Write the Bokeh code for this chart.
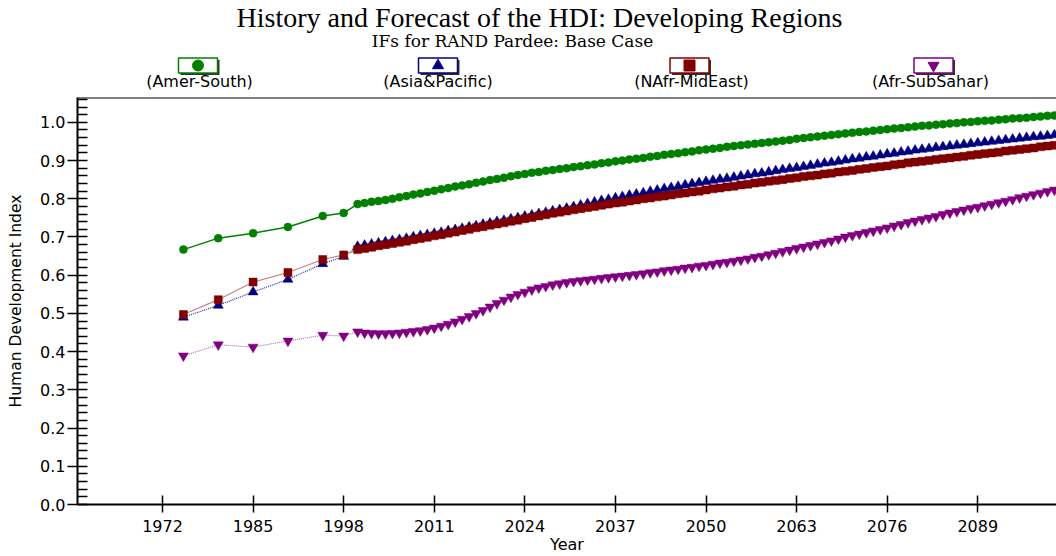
from bokeh.plotting import figure
from bokeh.models import Range1d, SingleIntervalTicker, FixedTicker, PrintfTickFormatter, Span
from bokeh.layouts import column
from bokeh.embed import file_html
from bokeh.resources import INLINE
from bokeh.core.properties import value

# ---------------- data ----------------
title = "History and Forecast of the HDI: Developing Regions"
subtitle = "IFs for RAND Pardee: Base Case"
regions = ["Amer-South", "Asia&Pacific", "NAfr-MidEast", "Afr-SubSahar"]
x_ticks = [1972, 1985, 1998, 2011, 2024, 2037, 2050, 2063, 2076, 2089]

hist_years = [1975, 1980, 1985, 1990, 1995, 1998]
fc_years = list(range(2000, 2101))

amer_hist = [0.667, 0.697, 0.710, 0.726, 0.755, 0.763]
asia_hist = [0.490, 0.521, 0.556, 0.589, 0.630, 0.649]
nafr_hist = [0.497, 0.536, 0.582, 0.607, 0.641, 0.653]
afr_hist = [0.389, 0.418, 0.412, 0.428, 0.443, 0.441]

amer_fc = [
    0.786, 0.789, 0.792, 0.794, 0.797, 0.800, 0.804, 0.807, 0.811, 0.814,
    0.818, 0.821, 0.825, 0.828, 0.832, 0.835, 0.838, 0.842, 0.845, 0.849,
    0.852, 0.855, 0.859, 0.862, 0.865, 0.868, 0.870, 0.873, 0.875, 0.878,
    0.880, 0.883, 0.885, 0.888, 0.890, 0.893, 0.895, 0.898, 0.900, 0.903,
    0.905, 0.907, 0.910, 0.912, 0.915, 0.917, 0.919, 0.922, 0.924, 0.927,
    0.929, 0.931, 0.933, 0.936, 0.938, 0.940, 0.942, 0.944, 0.946, 0.948,
    0.950, 0.952, 0.954, 0.957, 0.959, 0.961, 0.963, 0.965, 0.967, 0.969,
    0.971, 0.973, 0.975, 0.976, 0.978, 0.980, 0.982, 0.984, 0.985, 0.987,
    0.989, 0.991, 0.992, 0.994, 0.995, 0.997, 0.998, 1.000, 1.001, 1.003,
    1.004, 1.005, 1.007, 1.008, 1.010, 1.011, 1.012, 1.014, 1.015, 1.017,
    1.018,
]
asia_fc = [
    0.675, 0.678, 0.681, 0.684, 0.687, 0.690, 0.693, 0.696, 0.700, 0.703,
    0.706, 0.709, 0.712, 0.716, 0.719, 0.722, 0.726, 0.729, 0.733, 0.736,
    0.740, 0.743, 0.747, 0.750, 0.754, 0.757, 0.761, 0.764, 0.768, 0.771,
    0.775, 0.779, 0.783, 0.787, 0.791, 0.795, 0.798, 0.802, 0.805, 0.809,
    0.812, 0.815, 0.819, 0.822, 0.826, 0.829, 0.832, 0.836, 0.839, 0.842,
    0.845, 0.848, 0.851, 0.853, 0.856, 0.859, 0.862, 0.865, 0.867, 0.870,
    0.873, 0.876, 0.879, 0.881, 0.884, 0.887, 0.890, 0.893, 0.895, 0.898,
    0.901, 0.904, 0.906, 0.909, 0.911, 0.914, 0.917, 0.919, 0.922, 0.924,
    0.927, 0.929, 0.931, 0.934, 0.936, 0.938, 0.940, 0.942, 0.944, 0.946,
    0.948, 0.950, 0.952, 0.954, 0.956, 0.958, 0.960, 0.962, 0.963, 0.965,
    0.967,
]
nafr_fc = [
    0.667, 0.670, 0.673, 0.677, 0.680, 0.683, 0.686, 0.689, 0.693, 0.696,
    0.699, 0.703, 0.706, 0.710, 0.713, 0.717, 0.720, 0.724, 0.727, 0.731,
    0.734, 0.737, 0.741, 0.744, 0.748, 0.751, 0.755, 0.758, 0.762, 0.765,
    0.768, 0.771, 0.774, 0.777, 0.780, 0.783, 0.786, 0.789, 0.791, 0.794,
    0.797, 0.800, 0.802, 0.805, 0.807, 0.810, 0.813, 0.815, 0.818, 0.820,
    0.823, 0.826, 0.828, 0.831, 0.833, 0.836, 0.838, 0.841, 0.843, 0.846,
    0.848, 0.850, 0.853, 0.855, 0.858, 0.860, 0.862, 0.865, 0.867, 0.870,
    0.872, 0.874, 0.877, 0.879, 0.882, 0.884, 0.886, 0.889, 0.891, 0.894,
    0.896, 0.898, 0.900, 0.903, 0.905, 0.907, 0.909, 0.911, 0.914, 0.916,
    0.918, 0.920, 0.922, 0.925, 0.927, 0.929, 0.931, 0.933, 0.936, 0.938,
    0.940,
]
afr_fc = [
    0.452, 0.449, 0.448, 0.447, 0.447, 0.448, 0.449, 0.451, 0.453, 0.455,
    0.458, 0.462, 0.467, 0.472, 0.478, 0.485, 0.492, 0.500, 0.508, 0.517,
    0.526, 0.535, 0.543, 0.550, 0.556, 0.562, 0.567, 0.571, 0.575, 0.578,
    0.581, 0.584, 0.586, 0.588, 0.590, 0.592, 0.594, 0.596, 0.598, 0.600,
    0.602, 0.604, 0.607, 0.609, 0.612, 0.614, 0.616, 0.619, 0.621, 0.624,
    0.626, 0.629, 0.632, 0.634, 0.637, 0.640, 0.643, 0.647, 0.650, 0.654,
    0.658, 0.662, 0.666, 0.670, 0.674, 0.678, 0.682, 0.686, 0.690, 0.695,
    0.700, 0.704, 0.708, 0.712, 0.716, 0.720, 0.724, 0.729, 0.733, 0.738,
    0.742, 0.746, 0.750, 0.754, 0.759, 0.763, 0.767, 0.771, 0.775, 0.778,
    0.782, 0.786, 0.790, 0.794, 0.798, 0.803, 0.807, 0.811, 0.815, 0.819,
    0.823,
]

# ---------------- styles ----------------
styles = [
    dict(color="#008000", marker="circle", size=8, lcolor="#008000", dash="solid", lw=1.5),
    dict(color="#000080", marker="triangle", size=10, lcolor="#2a2ab0", dash="1 1", lw=1.2),
    dict(color="#800000", marker="square", size=8, lcolor="#c88080", dash="solid", lw=1.2),
    dict(color="#800080", marker="inverted_triangle", size=10, lcolor="#b870b8", dash="1 1", lw=1.2),
]
hists = [amer_hist, asia_hist, nafr_hist, afr_hist]
fcs = [amer_fc, asia_fc, nafr_fc, afr_fc]

SANS = "DejaVu Sans"
SERIF = "Liberation Serif"
W = 1056
LEFT = 77

# ---------------- header (title + legend) ----------------
hdr = figure(width=W, height=96, x_range=Range1d(LEFT, W), y_range=Range1d(96, 0),
             toolbar_location=None, output_backend="svg",
             min_border_left=LEFT, min_border_right=0, min_border_top=0, min_border_bottom=0,
             x_axis_location=None, y_axis_location=None)
hdr.grid.visible = False
hdr.outline_line_color = None

hdr.text(x=[539], y=[17], text=[title], text_font=value(SERIF), text_font_size="28px",
         text_align="center", text_baseline="alphabetic", text_color="black")
hdr.text(x=[512], y=[40], text=[subtitle], text_font=value("DejaVu Serif"), text_font_size="17px",
         text_align="center", text_baseline="alphabetic", text_color="black")

legend_box_x = [197.5, 437.5, 689, 933]
legend_label_x = [199, 437.5, 691, 930]
for i, st in enumerate(styles):
    bx = legend_box_x[i]
    hdr.rect(x=[bx + 2], y=[67], width=39, height=15, fill_color="#303030", line_color=None)
    hdr.rect(x=[bx], y=[65], width=39, height=15, fill_color="white",
             line_color=st["color"], line_width=1.5)
    hdr.scatter(x=[bx], y=[65], marker=st["marker"], size=11,
                fill_color=st["color"], line_color=st["color"])
    hdr.text(x=[legend_label_x[i]], y=[81], text=["(" + regions[i] + ")"],
             text_font=value(SANS), text_font_size="16px", text_align="center",
             text_baseline="alphabetic", text_color="black")

# ---------------- main chart ----------------
p = figure(width=W, height=460, x_range=Range1d(1959.8, 2100.3), y_range=Range1d(0, 1.065),
           toolbar_location=None, output_backend="svg",
           min_border_left=LEFT, min_border_right=0, min_border_top=1, min_border_bottom=50)
p.grid.visible = False
p.outline_line_color = None

# top frame line and x-axis shadow
p.add_layout(Span(location=1.065, dimension="width", line_color="black", line_width=2))
p.add_layout(Span(location=-0.0065, dimension="width", line_color="#808080", line_width=4,
                  level="underlay"))

for st, h, f in zip(styles, hists, fcs):
    xs = hist_years + fc_years
    ys = h + f
    p.line(xs, ys, line_color=st["lcolor"], line_width=st["lw"], line_dash=st["dash"])
    p.scatter(xs, ys, marker=st["marker"], size=st["size"],
              fill_color=st["color"], line_color=st["color"], line_width=0.5)

xa = p.xaxis[0]
xa.ticker = FixedTicker(ticks=x_ticks)
xa.axis_line_width = 2
xa.axis_line_color = "black"
xa.major_tick_in = 9
xa.major_tick_out = 8
xa.major_tick_line_width = 1.5
xa.minor_tick_line_color = None
xa.major_label_text_font = SANS
xa.major_label_text_font_size = "16px"
xa.major_label_text_color = "black"
xa.major_label_standoff = 7
xa.axis_label = "Year"
xa.axis_label_text_font = SANS
xa.axis_label_text_font_size = "16px"
xa.axis_label_text_font_style = "normal"
xa.axis_label_text_color = "black"
xa.axis_label_standoff = 0

ya = p.yaxis[0]
ya.ticker = SingleIntervalTicker(interval=0.1, num_minor_ticks=5)
ya.formatter = PrintfTickFormatter(format="%.1f")
ya.axis_line_width = 2
ya.axis_line_color = "black"
ya.major_tick_in = 0
ya.major_tick_out = 10
ya.major_tick_line_width = 1.5
ya.minor_tick_in = 10
ya.minor_tick_out = 0
ya.minor_tick_line_width = 1.5
ya.minor_tick_line_color = "black"
ya.major_label_text_font = SANS
ya.major_label_text_font_size = "16px"
ya.major_label_text_color = "black"
ya.major_label_standoff = 2
ya.axis_label = "Human Development Index"
ya.axis_label_text_font = SANS
ya.axis_label_text_font_size = "15.5px"
ya.axis_label_text_font_style = "normal"
ya.axis_label_text_color = "black"
ya.axis_label_standoff = 12

layout = column(hdr, p, spacing=0)
open("out.html", "w").write(file_html(layout, INLINE))
